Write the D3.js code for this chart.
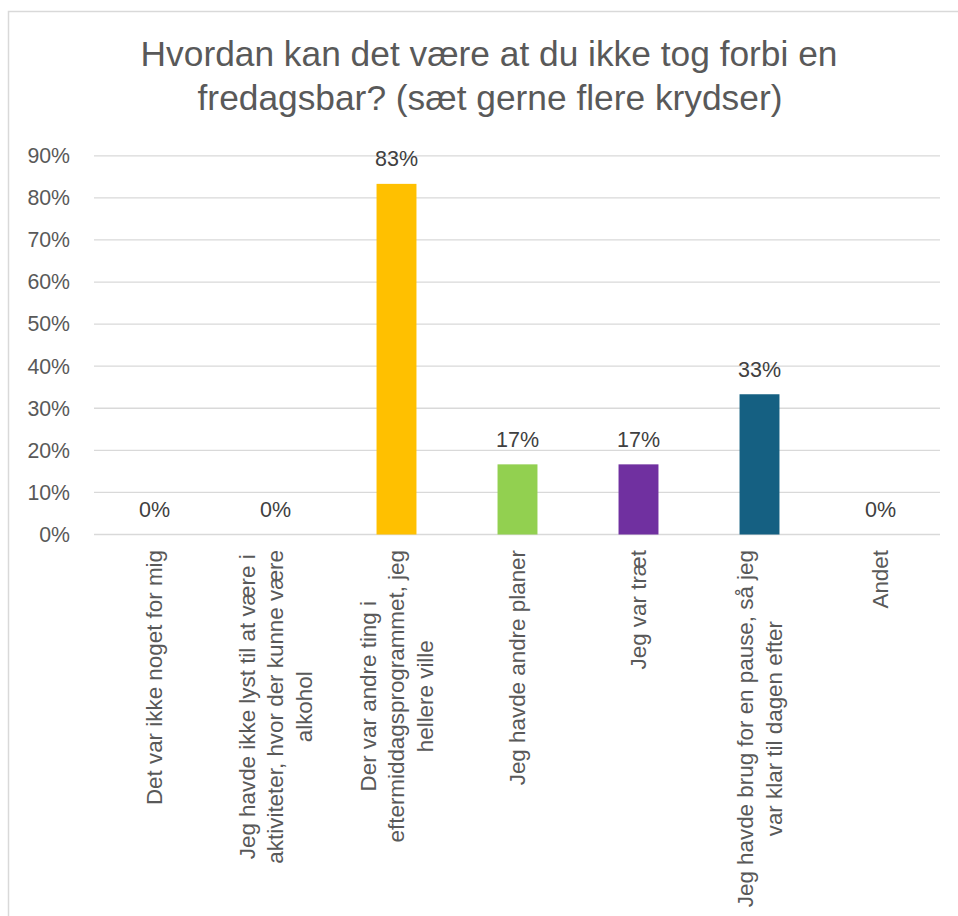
<!DOCTYPE html>
<html>
<head>
<meta charset="utf-8">
<script src="https://cdn.jsdelivr.net/npm/d3@7"></script>
<style>
  html, body { margin: 0; padding: 0; background: #ffffff; }
  svg { display: block; font-family: "Liberation Sans", Arial, sans-serif; }
</style>
</head>
<body>
<svg id="chart" width="958" height="916"></svg>
<script>
const titleLines = ["Hvordan kan det være at du ikke tog forbi en", "fredagsbar? (sæt gerne flere krydser)"];
const categories = [
  ["Det var ikke noget for mig"],
  ["Jeg havde ikke lyst til at være i", "aktiviteter, hvor der kunne være", "alkohol"],
  ["Der var andre ting i", "eftermiddagsprogrammet, jeg", "hellere ville"],
  ["Jeg havde andre planer"],
  ["Jeg var træt"],
  ["Jeg havde brug for en pause, så jeg", "var klar til dagen efter"],
  ["Andet"]
];
const values = [0, 0, 0.8333, 0.1667, 0.1667, 0.3333, 0];
const colors = ["#FFC000", "#FFC000", "#FFC000", "#92D050", "#7030A0", "#156082", "#FFC000"];
const yTicks = [0, 0.1, 0.2, 0.3, 0.4, 0.5, 0.6, 0.7, 0.8, 0.9];

const svg = d3.select("#chart");
const textColor = "#595959";
const gridColor = "#d9d9d9";

// outer border (chart area frame)
svg.append("rect")
  .attr("x", 8.5).attr("y", 11.5)
  .attr("width", 1000).attr("height", 1000)
  .attr("fill", "none").attr("stroke", gridColor).attr("stroke-width", 1.5);

const x = d3.scaleBand()
  .domain(d3.range(categories.length))
  .range([94, 941])
  .paddingInner(0.67)
  .paddingOuter(0.335);

const y = d3.scaleLinear().domain([0, 0.9]).range([534.5, 155.8]);

// gridlines
svg.append("g")
  .selectAll("line")
  .data(yTicks)
  .join("line")
  .attr("x1", 94).attr("x2", 940)
  .attr("y1", d => y(d)).attr("y2", d => y(d))
  .attr("stroke", gridColor).attr("stroke-width", 1.3);

// y axis labels
const yAxis = d3.axisLeft(y).tickValues(yTicks).tickFormat(d3.format(".0%")).tickSize(0).tickPadding(0);
const ya = svg.append("g").attr("transform", "translate(70,0)").call(yAxis);
ya.select(".domain").remove();
ya.selectAll("text")
  .attr("fill", textColor)
  .style("font-size", "21.3px")
  .style("font-family", "'Liberation Sans', Arial, sans-serif");

// bars
svg.append("g")
  .selectAll("rect")
  .data(values)
  .join("rect")
  .attr("x", (d, i) => x(i))
  .attr("width", x.bandwidth())
  .attr("y", d => y(d))
  .attr("height", d => y(0) - y(d))
  .attr("fill", (d, i) => colors[i]);

// value labels
svg.append("g")
  .selectAll("text")
  .data(values)
  .join("text")
  .attr("x", (d, i) => x(i) + x.bandwidth() / 2)
  .attr("y", d => y(d) - 17.5)
  .attr("text-anchor", "middle")
  .attr("fill", "#404040")
  .style("font-size", "21.5px")
  .text(d => Math.round(d * 100) + "%");

// category labels (rotated)
const lineGap = 28.5;
categories.forEach((lines, i) => {
  const cx = x(i) + x.bandwidth() / 2;
  const g = svg.append("g").attr("transform", `translate(${cx},550) rotate(-90)`);
  const texts = lines.map((ln, j) => g.append("text")
    .attr("y", (j - (lines.length - 1) / 2) * lineGap)
    .attr("dy", "0.35em")
    .attr("fill", textColor)
    .style("font-size", "22.4px")
    .text(ln));
  const maxW = d3.max(texts, t => t.node().getComputedTextLength());
  texts.forEach(t => t.attr("x", -maxW / 2).attr("text-anchor", "middle"));
});

// title
const tl = svg.append("g");
const t1 = tl.append("text").attr("x", 489).attr("y", 66).attr("text-anchor", "middle")
  .attr("fill", textColor).style("font-size", "34px").text(titleLines[0]);
const w1 = t1.node().getComputedTextLength();
const fs = 34 * 697 / w1;
t1.style("font-size", fs + "px");
tl.append("text").attr("x", 490).attr("y", 110).attr("text-anchor", "middle")
  .attr("fill", textColor).style("font-size", fs + "px").text(titleLines[1]);
</script>
</body>
</html>
